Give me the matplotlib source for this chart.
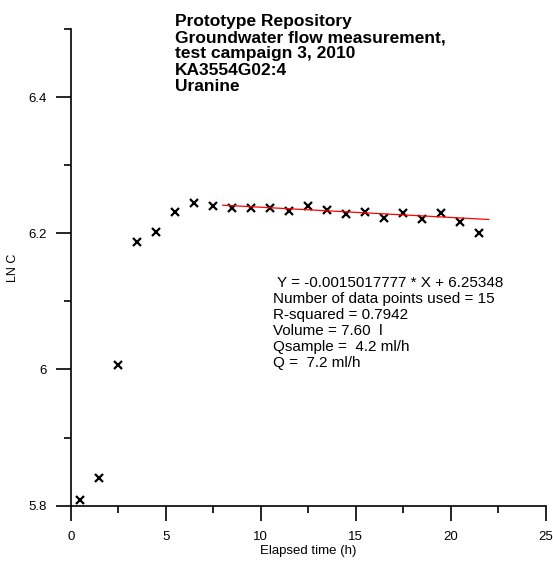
import matplotlib
matplotlib.use('Agg')
import matplotlib.pyplot as plt
from matplotlib.ticker import MultipleLocator

plt.rcParams['font.family'] = ['Liberation Sans', 'DejaVu Sans']

# measured data (elapsed time, LN of concentration)
elapsed_time = [0.5, 1.5, 2.5, 3.5, 4.5, 5.5, 6.5, 7.5, 8.5, 9.5, 10.5,
                11.5, 12.5, 13.5, 14.5, 15.5, 16.5, 17.5, 18.5, 19.5, 20.5, 21.5]
ln_c = [5.808, 5.841, 6.007, 6.188, 6.202, 6.232, 6.244, 6.241, 6.237, 6.238, 6.238,
        6.233, 6.240, 6.234, 6.229, 6.232, 6.222, 6.230, 6.221, 6.230, 6.217, 6.200]

# regression line
slope = -0.0015017777
intercept = 6.25348
fit_x = [8, 22]
fit_y = [slope * x + intercept for x in fit_x]

title_lines = ["Prototype Repository",
               "Groundwater flow measurement,",
               "test campaign 3, 2010",
               "KA3554G02:4",
               "Uranine"]
info_lines = [" Y = -0.0015017777 * X + 6.25348",
              "Number of data points used = 15",
              "R-squared = 0.7942",
              "Volume = 7.60  l",
              "Qsample =  4.2 ml/h",
              "Q =  7.2 ml/h"]

fig = plt.figure(figsize=(5.53, 5.63), dpi=100)
ax = fig.add_axes([0.128, 0.102, 0.859, 0.846])

ax.plot(elapsed_time, ln_c, linestyle='none', marker='x', color='black',
        markersize=5.5, markeredgewidth=1.6)
ax.plot(fit_x, fit_y, color='red', linewidth=0.9)

ax.set_xlim(0, 25)
ax.set_ylim(5.8, 6.5)
ax.xaxis.set_major_locator(MultipleLocator(5))
ax.xaxis.set_minor_locator(MultipleLocator(2.5))
ax.yaxis.set_minor_locator(MultipleLocator(0.1))
ax.set_yticks([5.8, 6.0, 6.2, 6.4])
ax.set_yticklabels(['5.8', '6', '6.2', '6.4'])

for side in ['top', 'right']:
    ax.spines[side].set_visible(False)
for side in ['left', 'bottom']:
    ax.spines[side].set_linewidth(1.2)
ax.tick_params(which='major', length=11, width=1.2, direction='out', labelsize=9.5, pad=6)
ax.tick_params(axis='x', which='major', pad=7)
ax.tick_params(which='minor', length=5, width=1.2, direction='out')

ax.set_xlabel('Elapsed time (h)', fontsize=9.5, labelpad=2)
ax.set_ylabel('LN C', fontsize=9, labelpad=7)

fig.text(0.3165, 0.975, "\n".join(title_lines), fontsize=12.5, fontweight='bold',
         va='top', ha='left', linespacing=1.1)
fig.text(0.493, 0.509, "\n".join(info_lines), fontsize=11,
         va='top', ha='left', linespacing=1.17)

fig.savefig('out.png', dpi=100)
